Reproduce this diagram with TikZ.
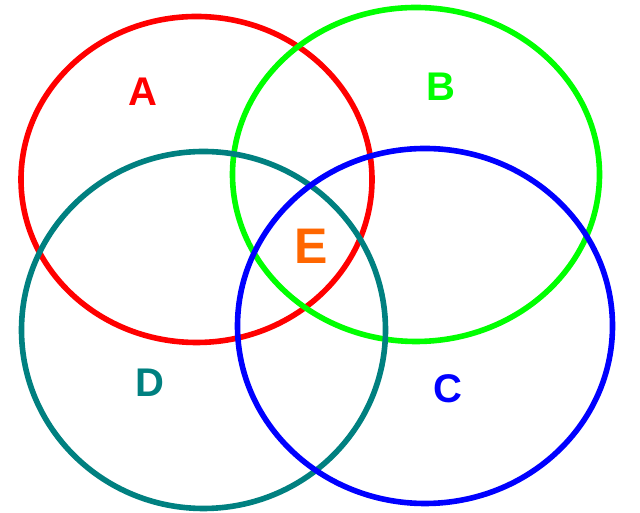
\documentclass[tikz,border=0pt]{standalone}
\usepackage{fontspec}
\setmainfont{Liberation Sans}
\definecolor{cred}{HTML}{FF0000}
\definecolor{cgreen}{HTML}{00FF00}
\definecolor{cteal}{HTML}{008080}
\definecolor{cblue}{HTML}{0000FF}
\definecolor{corange}{HTML}{FF6600}
\begin{document}
\begin{tikzpicture}[x=1pt,y=1pt,
  ring/.style={line width=5.6pt},
  lbl/.style={font=\fontsize{40}{40}\selectfont\bfseries, inner sep=0pt}]
\useasboundingbox (0,0) rectangle (640,513);
\draw[ring,cred] (196.5,333.5) ellipse [x radius=175.5, y radius=163];
\draw[ring,cgreen] (416,338.5) ellipse [x radius=183.5, y radius=167];
\draw[ring,cteal] (203.5,183) ellipse [x radius=182, y radius=178.5];
\draw[ring,cblue] (425,187) ellipse [x radius=187.5, y radius=177.5];
\node[lbl,text=cred] (A) at (142.5,421) {A};
\node[lbl,text=cgreen] (B) at (441,426) {B};
\node[lbl,text=corange,font=\fontsize{50}{50}\selectfont\bfseries] (E) at (311.5,267) {E};
\node[lbl,text=cteal] (D) at (149.5,130) {D};
\node[lbl,text=cblue] (C) at (448,124.5) {C};
\end{tikzpicture}
\end{document}
